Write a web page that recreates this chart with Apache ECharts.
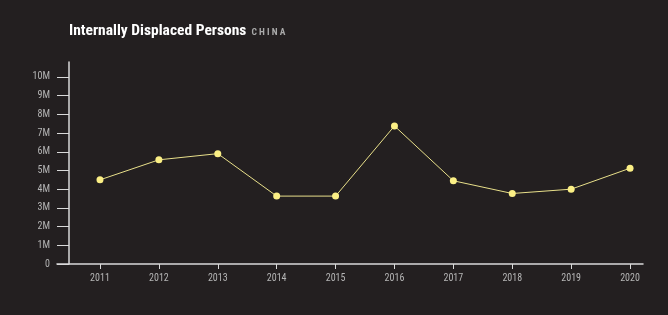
<!DOCTYPE html>
<html>
<head>
<meta charset="utf-8">
<script src="https://cdn.jsdelivr.net/npm/echarts@6/dist/echarts.min.js"></script>
<style>
  html, body { margin: 0; padding: 0; background: #231f20; }
  #chart { width: 668px; height: 315px; }
</style>
</head>
<body>
<div id="chart"></div>
<script>
// data
const years = [2011, 2012, 2013, 2014, 2015, 2016, 2017, 2018, 2019, 2020]
const displaced = [4.5, 5.57, 5.9, 3.63, 3.63, 7.38, 4.45, 3.77, 4.0, 5.12].map(v => v * 1e6)
const yTicks = [0, 1, 2, 3, 4, 5, 6, 7, 8, 9, 10].map(v => v * 1e6)

const font = '"Roboto Condensed", "Liberation Sans Narrow", sans-serif'

const chart = echarts.init(document.getElementById('chart'))
chart.setOption({
  backgroundColor: '#231f20',
  animation: false,
  title: {
    text: '{main|Internally Displaced Persons} {sub|C H I N A}',
    left: 64,
    top: 17,
    textStyle: {
      rich: {
        main: { fontFamily: font, fontSize: 15.5, fontWeight: 'bold', color: '#ffffff' },
        sub: { fontFamily: font, fontSize: 9.5, color: '#a9a9a9', padding: [4, 0, 0, 0] }
      }
    }
  },
  grid: { left: 57, right: 25, top: 62, bottom: 51 },
  xAxis: {
    type: 'value',
    min: 2010.27,
    max: 2020.22,
    splitLine: { show: false },
    axisLine: { lineStyle: { color: '#d9d9d9', width: 1.5 } },
    axisTick: { customValues: years, length: 5, lineStyle: { color: '#d9d9d9' } },
    axisLabel: {
      customValues: years,
      color: '#b5b5b5',
      fontFamily: font,
      fontSize: 10,
      margin: 9,
      formatter: v => String(v)
    }
  },
  yAxis: {
    type: 'value',
    min: 0,
    max: 10.8e6,
    offset: -12,
    splitLine: { show: false },
    axisLine: { show: true, lineStyle: { color: '#d9d9d9', width: 1.5 } },
    axisTick: { customValues: yTicks, length: 12, lineStyle: { color: '#d9d9d9' } },
    axisLabel: {
      customValues: yTicks,
      color: '#b5b5b5',
      fontFamily: font,
      fontSize: 10,
      margin: 19,
      formatter: v => v === 0 ? '0' : (v / 1e6) + 'M'
    }
  },
  series: [{
    type: 'line',
    data: years.map((y, i) => [y, displaced[i]]),
    symbol: 'circle',
    symbolSize: 7,
    lineStyle: { color: '#e8df8a', width: 1 },
    itemStyle: { color: '#fbef85' }
  }]
})
</script>
</body>
</html>
